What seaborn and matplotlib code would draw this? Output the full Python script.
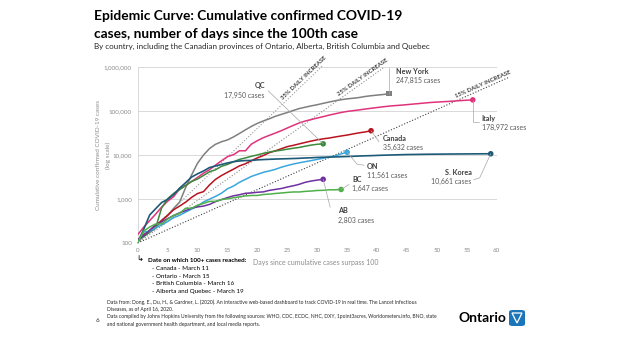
import numpy as np
import pandas as pd
import matplotlib
matplotlib.use("Agg")
import matplotlib.pyplot as plt
import seaborn as sns
from matplotlib.lines import Line2D
from matplotlib.patches import FancyBboxPatch, Polygon
from matplotlib.ticker import FixedLocator, NullLocator

# ---------------- data (cumulative cases, index = days since 100th case) ----------------
series_names = ["New York", "Italy", "Canada", "QC", "ON", "S. Korea", "AB", "BC"]
ny_cases = [105, 142, 173, 217, 326, 421, 610, 850, 1800, 3500, 6500, 10000, 14000, 17500,
            20000, 22000, 25665, 30811, 37258, 44635, 52318, 59513, 66497, 75795, 83712,
            92381, 102863, 113704, 122031, 130689, 138863, 149316, 159937, 170512, 180458,
            188694, 195031, 202208, 213779, 222284, 229642, 236732, 247815]
italy_cases = [155, 229, 322, 453, 655, 888, 1128, 1694, 2036, 2502, 3089, 3858, 4636, 5883,
               7375, 9172, 10149, 12462, 12462, 17660, 21157, 24747, 27980, 31506, 35713,
               41035, 47021, 53578, 59138, 63927, 69176, 74386, 80589, 86498, 92472, 97689,
               101739, 105792, 110574, 115242, 119827, 124632, 128948, 132547, 135586,
               139422, 143626, 147577, 152271, 156363, 159516, 162488, 165155, 168941,
               172434, 175925, 178972]
canada_cases = [117, 154, 193, 249, 324, 424, 569, 690, 846, 1087, 1331, 1470, 2088, 2790,
                3409, 4043, 4757, 5655, 6320, 7448, 8591, 9731, 11283, 12437, 13882, 15496,
                16563, 17897, 19291, 20748, 22148, 23316, 24298, 25680, 27063, 28379, 30106,
                31927, 33383, 35632]
qc_cases = [121, 139, 181, 221, 628, 1013, 1339, 1629, 2021, 2498, 2840, 3430, 4162, 4611,
            5518, 6101, 6997, 7944, 8580, 9340, 10031, 10912, 11677, 12292, 12846, 13557,
            14248, 14860, 15857, 16798, 17521, 17950]
on_cases = [104, 177, 185, 221, 257, 308, 377, 425, 503, 588, 688, 858, 993, 1144, 1355,
            1706, 1966, 2392, 2793, 3255, 3630, 4038, 4347, 4726, 5276, 5759, 6237, 6648,
            7049, 7470, 7953, 8447, 8961, 9525, 10578, 11561]
korea_cases = [104, 204, 433, 602, 833, 977, 1261, 1766, 2337, 3150, 3736, 4335, 5186, 5621,
               6088, 6593, 7041, 7314, 7478, 7513, 7755, 7869, 7979, 8086, 8162, 8236, 8320,
               8413, 8565, 8652, 8799, 8897, 8961, 9037, 9137, 9241, 9332, 9478, 9583, 9661,
               9786, 9887, 9976, 10062, 10156, 10237, 10284, 10331, 10384, 10423, 10450,
               10480, 10512, 10537, 10564, 10591, 10613, 10635, 10653, 10661]
ab_cases = [119, 146, 195, 259, 301, 359, 419, 486, 542, 621, 661, 690, 754, 871, 969, 1075,
            1181, 1250, 1348, 1373, 1423, 1451, 1569, 1651, 1732, 1870, 1996, 2158, 2397,
            2562, 2690, 2803]
bc_cases = [103, 186, 231, 271, 271, 348, 424, 472, 617, 617, 725, 792, 884, 884, 970, 1013,
            1066, 1121, 1174, 1203, 1203, 1266, 1291, 1336, 1370, 1410, 1445, 1445, 1490,
            1517, 1561, 1575, 1618, 1618, 1647]
case_labels = ["247,815 cases", "178,972 cases", "35,632 cases", "17,950 cases",
               "11,561 cases", "10,661 cases", "2,803 cases", "1,647 cases"]

rates = [0.35, 0.25, 0.15]
rate_end_days = [31, 41, 62]
rate_labels = ["35% DAILY INCREASE", "25% DAILY INCREASE", "15% DAILY INCREASE"]

x_ticks = [0, 5, 10, 15, 20, 25, 30, 35, 40, 45, 50, 55, 60]
y_ticks = [100, 1000, 10000, 100000, 1000000]
y_tick_labels = ["100", "1,000", "10,000", "100,000", "1,000,000"]

reached_dates = ["- Canada - March 11", "- Ontario - March 15", "- British Columbia - March 16",
                 "- Alberta and Quebec - March 19"]

# ---------------- styles ----------------
palette = {"New York": "#7f7f7f", "Italy": "#e0327c", "Canada": "#b8121f", "QC": "#3c8a3c",
           "ON": "#3aa6dc", "S. Korea": "#1d5a78", "AB": "#7030a0", "BC": "#4fb04a"}
widths = {"New York": 1.1, "Italy": 1.1, "Canada": 1.1, "QC": 1.1, "ON": 1.1,
          "S. Korea": 1.2, "AB": 1.1, "BC": 1.1}
markers = {"New York": "s", "Italy": "o", "Canada": "o", "QC": "o", "ON": "o",
           "S. Korea": "o", "AB": "o", "BC": "o"}
rate_colors = ["#9a9a9a", "#8a8a8a", "#404040"]

all_series = [ny_cases, italy_cases, canada_cases, qc_cases, on_cases, korea_cases,
              ab_cases, bc_cases]
rows = []
for name, vals in zip(series_names, all_series):
    for d, v in enumerate(vals):
        rows.append((name, d, v))
df = pd.DataFrame(rows, columns=["series", "day", "cases"])
ends = df.groupby("series", sort=False).tail(1).reset_index(drop=True)

sns.set_theme(style="white")
plt.rcParams['font.family'] = ['Lato', 'DejaVu Sans']

W, H = 620, 340
fig = plt.figure(figsize=(W / 100, H / 100), dpi=100)
fig.patch.set_facecolor("white")
ax = fig.add_axes([137.7 / W, 1 - 243 / H, (496.7 - 137.7) / W, (243 - 67) / H])

ax.set_yscale("log")
ax.set_xlim(0, 60)
ax.set_ylim(100, 1000000)

sns.lineplot(data=df, x="day", y="cases", hue="series", hue_order=series_names,
             palette=palette, size="series", sizes=widths, estimator=None, sort=False,
             legend=False, ax=ax, zorder=3)
for ln in ax.get_lines():
    ln.set_solid_joinstyle("round")
    ln.set_solid_capstyle("round")
sns.scatterplot(data=ends, x="day", y="cases", hue="series", palette=palette,
                style="series", markers=markers, s=16, linewidth=0, legend=False,
                ax=ax, zorder=5, clip_on=False)

# reference growth lines
for r, e, c in zip(rates, rate_end_days, rate_colors):
    d = np.linspace(0, e, 300)
    ax.plot(d, 100 * (1 + r) ** d, ls=(0, (1, 1.6)), color=c, lw=0.8, clip_on=False, zorder=2)

# axes styling
ax.xaxis.set_major_locator(FixedLocator(x_ticks))
ax.yaxis.set_major_locator(FixedLocator(y_ticks))
ax.yaxis.set_minor_locator(NullLocator())
ax.set_yticklabels(y_tick_labels)
ax.tick_params(axis="both", length=0, labelsize=4.5, labelcolor="#8c8c8c")
ax.tick_params(axis="y", pad=4.2)
ax.tick_params(axis="x", pad=3.5)
ax.yaxis.grid(True, color="#d9d9d9", lw=0.7)
ax.xaxis.grid(False)
for s in ["top", "right", "bottom"]:
    ax.spines[s].set_visible(False)
ax.spines["left"].set_color("#d9d9d9")
ax.spines["left"].set_linewidth(0.7)
ax.set_xlabel("")
ax.set_ylabel("")

fig.canvas.draw()

# rate labels along the lines
label_days = [28.3, 38.0, 58.0]
for r, ld, txt in zip(rates, label_days, rate_labels):
    p1 = ax.transData.transform((ld - 1, 100 * (1 + r) ** (ld - 1)))
    p2 = ax.transData.transform((ld + 1, 100 * (1 + r) ** (ld + 1)))
    ang = np.arctan2(p2[1] - p1[1], p2[0] - p1[0])
    off = 4.0
    ax.annotate(txt, xy=(ld, 100 * (1 + r) ** ld),
                xytext=(-np.sin(ang) * off, np.cos(ang) * off), textcoords="offset pixels",
                rotation=np.degrees(ang), rotation_mode="anchor", ha="center", va="center",
                fontsize=4.3, fontweight="bold", color="#404040", annotation_clip=False)

# end labels: (name offset px, cases offset px, ha, leader polyline offsets)
label_layout = {
    "New York": ((7, 22), (7, 13), "left", [(0, 0), (0, 26)]),
    "Italy": ((9, -19), (9, -28), "left", [(0, 0), (0, -22), (6, -22)]),
    "Canada": ((12, -8), (12, -17), "left", [(0, 0), (8, -11)]),
    "QC": ((-58, 58), (-59, 48), "right", [(0, 0), (-55, 53)]),
    "ON": ((20, -14), (20, -23), "left", [(0, 0), (10, -12), (17, -13)]),
    "S. Korea": ((-19, -19), (-19, -28), "right", [(0, 0), (-11, -24), (-17, -26)]),
    "AB": ((15, -31), (15, -41), "left", [(0, 0), (7, -28)]),
    "BC": ((11, 10), (11, 1), "left", [(0, 0), (8, 5)]),
}
for i, row in ends.iterrows():
    name = row["series"]
    (nx, ny), (cx, cy), ha, poly = label_layout[name]
    p = ax.transData.transform((row["day"], row["cases"]))
    xs = [p[0] + dx for dx, dy in poly]
    ys = [p[1] + dy for dx, dy in poly]
    fig.add_artist(Line2D(xs, ys, transform=None, color="#a6a6a6", lw=0.5, zorder=1))
    ax.annotate(name, xy=(row["day"], row["cases"]), xytext=(nx, ny),
                textcoords="offset pixels", ha=ha, va="center", fontsize=5.2,
                fontweight="bold", color="#404040", annotation_clip=False)
    ax.annotate(case_labels[series_names.index(name)], xy=(row["day"], row["cases"]),
                xytext=(cx, cy), textcoords="offset pixels", ha=ha, va="center",
                fontsize=5.0, color="#595959", annotation_clip=False)

def fx(x):
    return x / W

def fy(y):
    return 1 - y / H

# titles
fig.text(fx(94), fy(16), "Epidemic Curve: Cumulative confirmed COVID-19", fontsize=9.9,
         fontweight="bold", color="black", va="center", ha="left")
fig.text(fx(94), fy(34), "cases, number of days since the 100th case", fontsize=9.9,
         fontweight="bold", color="black", va="center", ha="left")
fig.text(fx(94), fy(46), "By country, including the Canadian provinces of Ontario, Alberta, "
         "British Columbia and Quebec", fontsize=5.8, color="#262626", va="center", ha="left")

# axis titles
fig.text(fx(99), fy(155), "Cumulative confirmed COVID-19 cases", rotation=90, fontsize=4.6,
         color="#8c8c8c", va="center", ha="center")
fig.text(fx(108), fy(155), "(log scale)", rotation=90, fontsize=4.6,
         color="#8c8c8c", va="center", ha="center")
fig.text(fx(316), fy(262), "Days since cumulative cases surpass 100", fontsize=5.0,
         color="#8c8c8c", va="center", ha="center")

# note on dates
fig.text(fx(136), fy(259), "\u21b3", fontsize=6, color="black", va="center", ha="left",
         family=["DejaVu Sans"])
fig.text(fx(148), fy(261), "Date on which 100+ cases reached:", fontsize=4.5,
         fontweight="bold", color="black", va="center", ha="left")
for k, t in enumerate(reached_dates):
    fig.text(fx(152), fy(268.5 + 7.6 * k), t, fontsize=4.5, color="black",
             va="center", ha="left")

# footer
foot = ["Data from: Dong, E., Du, H., & Gardner, L. (2020). An interactive web-based dashboard "
        "to track COVID-19 in real time. The Lancet Infectious",
        "Diseases, as of April 16, 2020.",
        "Data compiled by Johns Hopkins University from the following sources: WHO, CDC, ECDC, "
        "NHC, DXY, 1point3acres, Worldometers.info, BNO, state",
        "and national government health department, and local media reports."]
for k, t in enumerate(foot):
    fig.text(fx(107), fy(302 + 7.4 * k), t, fontsize=3.65, color="#262626", va="center",
             ha="left")
fig.text(fx(96), fy(321), "6", fontsize=4.5, color="#262626", va="center", ha="left")

# Ontario logo
fig.text(fx(506), fy(318), "Ontario", fontsize=10, fontweight="bold", color="black",
         va="center", ha="right")
logo = FancyBboxPatch((fx(509), fy(326)), fx(16), 16 / H,
                      boxstyle="round,pad=0,rounding_size=0.006", transform=fig.transFigure,
                      facecolor="#1b75bb", edgecolor="none")
fig.add_artist(logo)
tri = Polygon([(fx(512), fy(313)), (fx(522), fy(313)), (fx(517), fy(323))], closed=True,
              transform=fig.transFigure, facecolor="none", edgecolor="white", lw=0.9)
fig.add_artist(tri)

fig.savefig("out.png", dpi=100, facecolor="white")
